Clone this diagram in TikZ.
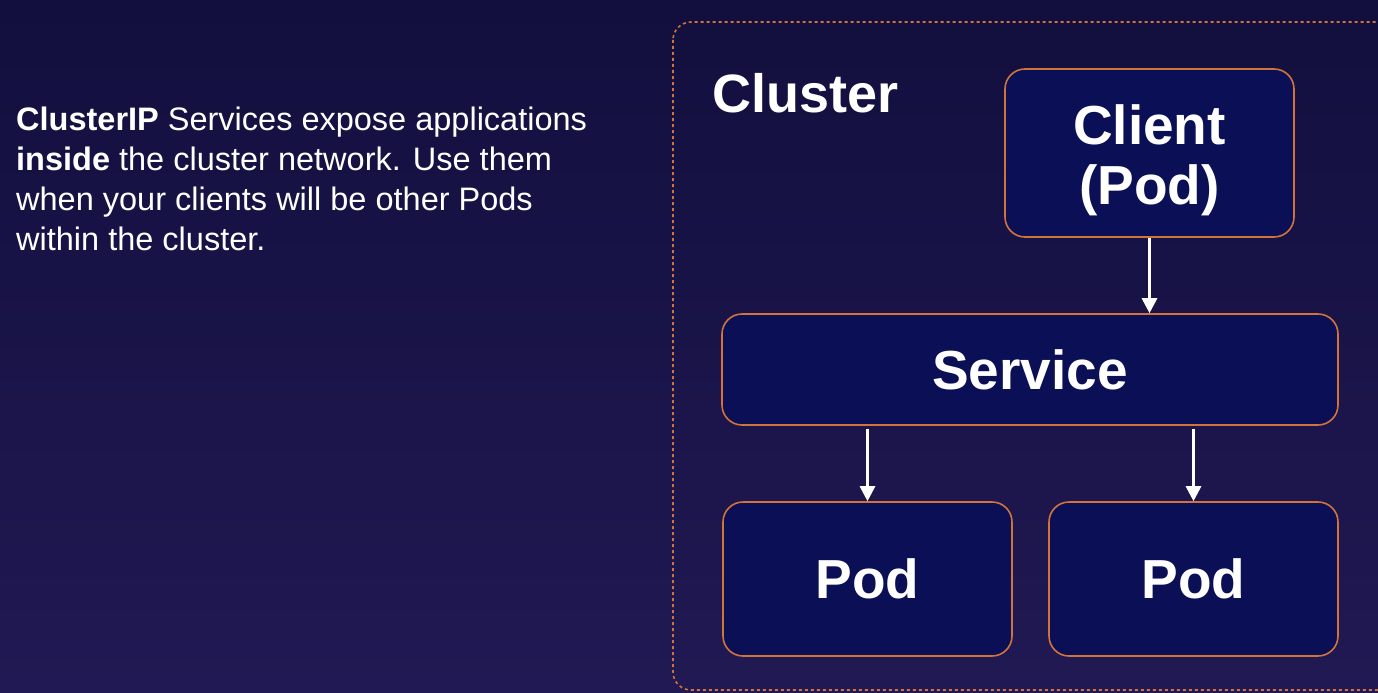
\documentclass[tikz,border=0pt]{standalone}
\usepackage{fontspec}
\setmainfont{Liberation Sans}
\usetikzlibrary{positioning,arrows.meta}
\definecolor{bgtop}{HTML}{120F3E}
\definecolor{bgbot}{HTML}{211953}
\definecolor{boxfill}{HTML}{0B1056}
\definecolor{edge}{HTML}{D2743A}

\begin{document}
\begin{tikzpicture}[x=1pt, y=1pt,
    box/.style={draw=edge, line width=1.6pt, fill=boxfill, rounded corners=20pt, align=center, text=white, font=\bfseries\fontsize{55}{60}\selectfont, inner sep=0pt},
    arr/.style={-{Triangle[width=15pt,length=15pt]}, draw=white, line width=2.8pt}
]
% background
\shade[top color=bgtop, bottom color=bgbot] (0,0) rectangle (1378,-693);
\useasboundingbox (0,0) rectangle (1378,-693);

% cluster frame
\draw[edge, line width=1.6pt, dash pattern=on 3pt off 3pt, rounded corners=18pt] (673,-22) rectangle (1400,-690);
\node[anchor=base west, text=white, font=\bfseries\fontsize{54}{60}\selectfont] (title) at (709,-112) {Cluster};

% explanation
\node[anchor=north west, align=left, text=white, inner sep=0pt, font=\fontsize{32.5}{40}\selectfont] (note) at (16,-107)
  {\textbf{ClusterIP} Services expose applications\\
   \textbf{inside} the cluster network. Use them\\
   when your clients will be other Pods\\
   within the cluster.};

\node[box, minimum width=289pt, minimum height=168pt] (client) at (1149.5,-153) {\rule{0pt}{54pt}Client\\(Pod)};
\node[box, minimum width=616pt, minimum height=111pt] (service) at (1030,-369.5) {Service};
\node[box, minimum width=289pt, minimum height=154pt] (pod1) at (867.5,-579) {Pod};
\node[box, minimum width=289pt, minimum height=154pt] (pod2) at (1193.5,-579) {Pod};

\draw[arr] (client.south) -- (client.south |- service.north);
\draw[arr, shorten <=3pt] (service.south -| pod1) -- (pod1.north);
\draw[arr, shorten <=3pt] (service.south -| pod2) -- (pod2.north);
\end{tikzpicture}
\end{document}
